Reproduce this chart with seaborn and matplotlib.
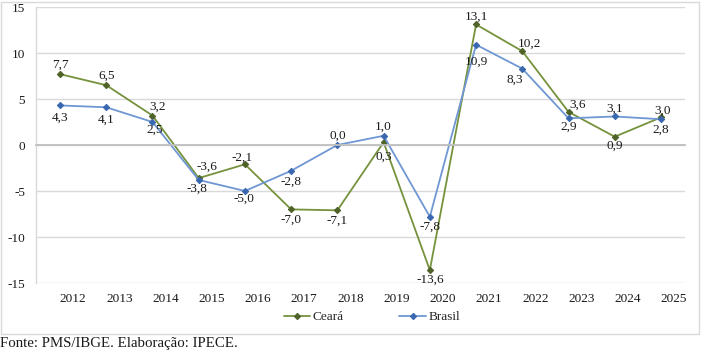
import numpy as np
import pandas as pd
import matplotlib
matplotlib.use("Agg")
import matplotlib.pyplot as plt
import seaborn as sns
from matplotlib.patches import Rectangle

years = [2012, 2013, 2014, 2015, 2016, 2017, 2018, 2019, 2020, 2021, 2022, 2023, 2024, 2025]
ceara = [7.7, 6.5, 3.2, -3.6, -2.1, -7.0, -7.1, 0.3, -13.6, 13.1, 10.2, 3.6, 0.9, 3.0]
brasil = [4.3, 4.1, 2.5, -3.8, -5.0, -2.8, 0.0, 1.0, -7.8, 10.9, 8.3, 2.9, 3.1, 2.8]
series_names = ["Ceará", "Brasil"]
yticks = [-15, -10, -5, 0, 5, 10, 15]
source_text = "Fonte: PMS/IBGE. Elaboração: IPECE."

# label offsets in pixels (dx, dy)
off_ceara = [(0, 9), (0, 9), (5, 9), (8, 11), (-3, 7), (0, -10), (0, -10), (0, -14),
             (0, -10), (0, 8), (7, 7), (9, 7), (0, -9), (2, 7)]
off_brasil = [(0, -12), (0, -12), (2, -8), (-2, -9), (-1, -8), (0, -11), (0, 9), (0, 9),
              (0, -10), (0, -17), (-8, -11), (0, -8), (0, 8), (0, -10)]

df = pd.DataFrame({
    "Ano": years * 2,
    "Valor": ceara + brasil,
    "Série": [series_names[0]] * len(years) + [series_names[1]] * len(years),
})

sns.set_style("white")
plt.rcParams["font.family"] = ["Liberation Serif", "DejaVu Serif"]

W, H = 701, 352
fig = plt.figure(figsize=(W / 100, H / 100), dpi=100)
ax = fig.add_axes([36 / W, 1 - 283 / H, (685 - 36) / W, (283 - 7) / H])

line_cols = {"Ceará": "#76923c", "Brasil": "#6f97d3"}
mark_cols = {"Ceará": "#4f6228", "Brasil": "#3a68b0"}

for name in series_names:
    sub = df[df["Série"] == name]
    sns.lineplot(data=sub, x="Ano", y="Valor", ax=ax, color=line_cols[name],
                 marker="D", markersize=3.2, markerfacecolor=mark_cols[name],
                 markeredgecolor=mark_cols[name], linewidth=1.3, label=name,
                 legend=False)

def fmt(v):
    return f"{v:.1f}".replace(".", ",")

for vals, offs in ((ceara, off_ceara), (brasil, off_brasil)):
    for x, v, (dx, dy) in zip(years, vals, offs):
        ax.annotate(fmt(v), (x, v), xytext=(dx, dy), textcoords="offset pixels",
                    ha="center", va="center", fontsize=9.5, color="#1a1a1a")

ax.set_xlim(years[0] - 0.52, years[-1] + 0.52)
ax.set_ylim(-15, 15)
ax.set_yticks(yticks)
ax.set_yticklabels([str(t) for t in yticks])
ax.tick_params(axis="y", length=0, pad=8, labelsize=9.5, labelcolor="#1a1a1a")
ax.yaxis.grid(True, color="#d9d9d9", linewidth=1)
ax.xaxis.grid(False)
ax.set_axisbelow(True)
for s in ("top", "right"):
    ax.spines[s].set_visible(False)
ax.spines["left"].set_color("#d9d9d9")
ax.spines["left"].set_linewidth(1)
ax.spines["bottom"].set_position(("data", 0))
ax.spines["bottom"].set_color("#bfbfbf")
ax.spines["bottom"].set_linewidth(1.3)
ax.set_xticks(years)
ax.tick_params(axis="x", direction="out", length=3, color="#bfbfbf", labelbottom=False)
ax.set_xlabel("")
ax.set_ylabel("")

sec = ax.secondary_xaxis("bottom")
sec.set_xticks([y + 0.28 for y in years])
sec.set_xticklabels([str(y) for y in years])
sec.tick_params(length=0, pad=7, labelsize=9.5, labelcolor="#1a1a1a")
sec.spines["bottom"].set_visible(False)

handles = ax.get_lines()[:2]
fig.legend(handles=handles, labels=series_names, loc="center", ncol=2,
           bbox_to_anchor=(372 / W, 1 - 317 / H), frameon=False, fontsize=9.5,
           handlelength=2.0, handletextpad=0.2, columnspacing=4.2)

fig.patches.append(Rectangle((1 / W, 1 - 334 / H), 698 / W, 332 / H,
                             transform=fig.transFigure, fill=False,
                             edgecolor="#d9d9d9", linewidth=1))
fig.text(0 / W, 1 - 343 / H, source_text, ha="left", va="center", fontsize=10.7,
         color="#1a1a1a")

fig.savefig("out.png", dpi=100)
